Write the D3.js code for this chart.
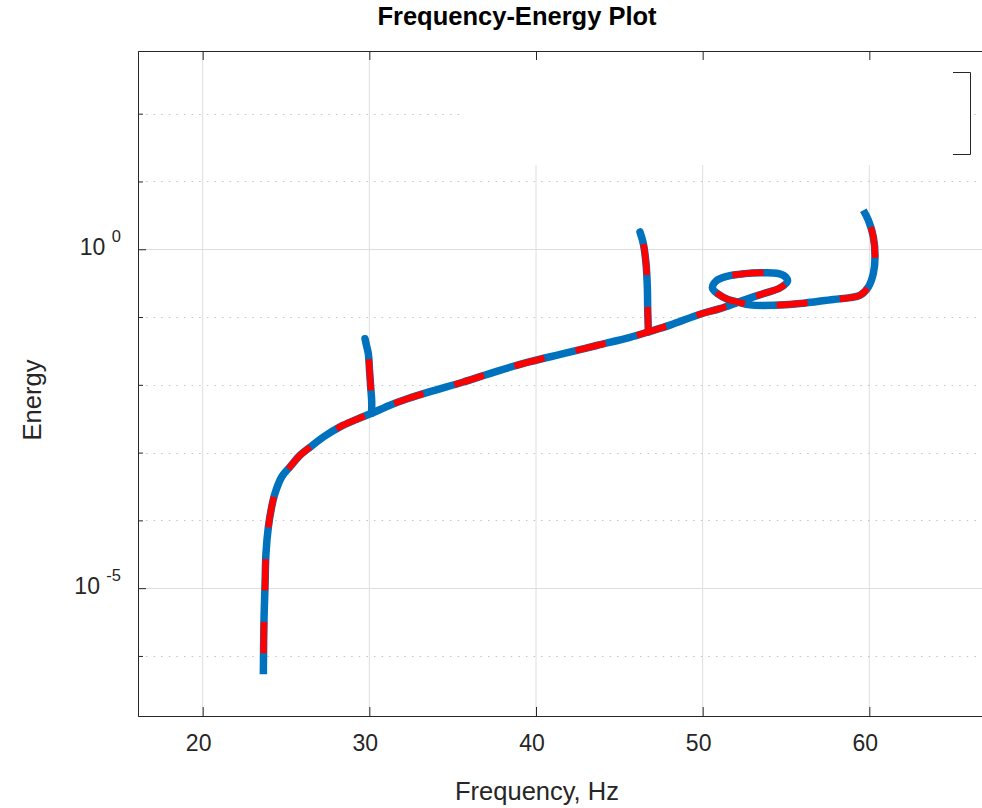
<!DOCTYPE html>
<html>
<head>
<meta charset="utf-8">
<script src="https://cdn.jsdelivr.net/npm/d3@7"></script>
<style>
  html, body { margin: 0; padding: 0; background: #fff; }
  svg { display: block; font-family: "Liberation Sans", Arial, Helvetica, sans-serif; }
</style>
</head>
<body>
<svg id="chart" width="982" height="808"></svg>
<script>
// ---------------- data ----------------
const titleText = "Frequency-Energy Plot";
const xLabelText = "Frequency, Hz";
const yLabelText = "Energy";

const xDomain = [16.12, 66.76];
const yDomain = [1.30e-7, 841];

const xTicks = [20, 30, 40, 50, 60];
const yMajorTicks = [1e-5, 1e0];
const yMajorExponents = ["-5", "0"];
const yMinorTicks = [1e-6, 1e-4, 1e-3, 1e-2, 1e-1, 1e1, 1e2];

// backbone branch (frequency in Hz, energy)
const backboneFreq = [23.64, 23.68, 23.74, 23.80, 23.94, 24.14, 24.34, 24.74, 25.24, 25.84,
  26.44, 27.24, 28.24, 29.24, 30.14, 31.24, 32.24, 33.64, 35.64, 37.64,
  39.64, 41.64, 43.64, 45.64, 46.74, 48.04, 49.84, 51.04, 52.14, 52.96,
  53.84, 54.64, 55.09, 54.94, 54.44, 53.44, 52.54, 51.46, 50.80, 50.59,
  50.92, 51.52, 52.14, 52.84, 54.24, 55.84, 57.84, 58.84, 59.44, 59.94,
  60.24, 60.34, 60.24, 59.94, 59.64];
const backboneEnergy = [5.37e-7, 3.39e-6, 1.05e-5, 3.31e-5, 7.94e-5, 1.58e-4, 2.51e-4, 4.37e-4, 6.17e-4, 9.12e-4,
  1.20e-3, 1.70e-3, 2.40e-3, 3.09e-3, 3.80e-3, 5.01e-3, 6.17e-3, 7.94e-3, 1.10e-2, 1.58e-2,
  2.19e-2, 2.88e-2, 3.80e-2, 5.01e-2, 6.03e-2, 7.59e-2, 0.110, 0.133, 0.166, 0.195,
  0.229, 0.269, 0.339, 0.398, 0.443, 0.450, 0.437, 0.398, 0.339, 0.266,
  0.219, 0.182, 0.166, 0.151, 0.149, 0.158, 0.182, 0.193, 0.209, 0.278,
  0.439, 0.769, 1.52, 2.68, 3.76];

// tongue near 30 Hz
const tongue1Freq = [30.14, 30.14, 30.08, 30.01, 29.94, 29.83, 29.74];
const tongue1Energy = [3.80e-3, 5.89e-3, 9.33e-3, 1.66e-2, 2.88e-2, 3.80e-2, 4.79e-2];

// tongue near 46.7 Hz
const tongue2Freq = [46.74, 46.70, 46.68, 46.60, 46.44, 46.24];
const tongue2Energy = [6.03e-2, 0.141, 0.278, 0.617, 1.21, 1.80];

// ---------------- layout ----------------
const svg = d3.select("#chart");
const plot = { left: 138, right: 982, top: 51, bottom: 716 };

const x = d3.scaleLinear().domain(xDomain).range([plot.left, plot.right]);
const y = d3.scaleLog().domain(yDomain).range([plot.bottom, plot.top]);

const axisColor = "#262626";
const blue = "#0072BD";
const red = "#FF0000";

// ---------------- grid ----------------
const grid = svg.append("g");
grid.selectAll("line.vx").data(xTicks).join("line")
  .attr("x1", d => x(d)).attr("x2", d => x(d))
  .attr("y1", plot.top).attr("y2", plot.bottom)
  .attr("stroke", "#dedede").attr("stroke-width", 1);
grid.selectAll("line.hmaj").data(yMajorTicks).join("line")
  .attr("x1", plot.left).attr("x2", plot.right)
  .attr("y1", d => Math.round(y(d)) + 0.5).attr("y2", d => Math.round(y(d)) + 0.5)
  .attr("stroke", "#dedede").attr("stroke-width", 1);
grid.selectAll("line.hmin").data(yMinorTicks).join("line")
  .attr("x1", plot.left + 8).attr("x2", plot.right)
  .attr("y1", d => Math.round(y(d)) + 0.5).attr("y2", d => Math.round(y(d)) + 0.5)
  .attr("stroke", "#c4c4c4").attr("stroke-width", 1)
  .attr("stroke-dasharray", "1.5,6.1");

// legend area (blank box with right bracket visible)
svg.append("rect").attr("x", 465).attr("y", 52).attr("width", 505).attr("height", 113)
  .attr("fill", "#fff");
svg.append("path").attr("d", "M953,72.5H970.5V154.5H953")
  .attr("fill", "none").attr("stroke", axisColor).attr("stroke-width", 1);

// ---------------- curves ----------------
const line = d3.line().x(d => x(d[0])).y(d => y(d[1])).curve(d3.curveCatmullRom.alpha(0.5));
const series = [
  { pts: d3.zip(backboneFreq, backboneEnergy), offset: 42, cap: "butt" },
  { pts: d3.zip(tongue1Freq, tongue1Energy), offset: 40, cap: "round" },
  { pts: d3.zip(tongue2Freq, tongue2Energy), offset: 6, cap: "round" }
];
const curves = svg.append("g");
series.forEach(s => {
  curves.append("path").attr("d", line(s.pts))
    .attr("fill", "none").attr("stroke", blue).attr("stroke-width", 7.5)
    .attr("stroke-linejoin", "round").attr("stroke-linecap", s.cap);
});
series.forEach(s => {
  curves.append("path").attr("d", line(s.pts))
    .attr("fill", "none").attr("stroke", red).attr("stroke-width", 6.5)
    .attr("stroke-linejoin", "round").attr("stroke-linecap", "butt")
    .attr("stroke-dasharray", "31,32").attr("stroke-dashoffset", s.offset);
});

// ---------------- axes ----------------
function styleAxis(g) {
  g.selectAll("path.domain").attr("stroke", axisColor).attr("stroke-width", 1);
  g.selectAll(".tick line").attr("stroke", axisColor).attr("stroke-width", 1);
}

const gBottom = svg.append("g").attr("transform", `translate(0,${plot.bottom})`)
  .call(d3.axisBottom(x).tickValues(xTicks).tickSize(-9).tickSizeOuter(0).tickFormat(d3.format("d")));
styleAxis(gBottom);
gBottom.selectAll(".tick text")
  .attr("x", -4.5).attr("y", 35).attr("dy", 0)
  .attr("fill", axisColor).attr("font-size", 23)
  .attr("font-family", "'Liberation Sans', Arial, sans-serif");

const gTop = svg.append("g").attr("transform", `translate(0,${plot.top})`)
  .call(d3.axisTop(x).tickValues(xTicks).tickSize(-9).tickSizeOuter(0).tickFormat(""));
styleAxis(gTop);

const gLeftMinor = svg.append("g").attr("transform", `translate(${plot.left},0)`)
  .call(d3.axisLeft(y).tickValues(yMinorTicks).tickSize(-5).tickSizeOuter(0).tickFormat(""));
styleAxis(gLeftMinor);

const gLeft = svg.append("g").attr("transform", `translate(${plot.left},0)`)
  .call(d3.axisLeft(y).tickValues(yMajorTicks).tickSize(-8).tickSizeOuter(0).tickFormat(""));
styleAxis(gLeft);

// y tick labels: 10 with superscript exponent
const yLab = svg.append("g").attr("fill", axisColor)
  .attr("font-family", "'Liberation Sans', Arial, sans-serif");
yMajorTicks.forEach((v, i) => {
  const t = yLab.append("text")
    .attr("x", 121).attr("y", y(v) + 6)
    .attr("text-anchor", "end");
  t.append("tspan").attr("font-size", 23).text("10 ");
  t.append("tspan").attr("font-size", 16.5).attr("dy", -13).text(yMajorExponents[i]);
});

// ---------------- labels ----------------
svg.append("text").attr("x", 517).attr("y", 25).attr("text-anchor", "middle")
  .attr("font-weight", "bold").attr("font-size", 25.5).attr("fill", "#000")
  .text(titleText);

svg.append("text").attr("x", 537).attr("y", 800).attr("text-anchor", "middle")
  .attr("font-size", 25.5).attr("fill", axisColor)
  .text(xLabelText);

svg.append("text").attr("transform", "translate(41,400) rotate(-90)")
  .attr("text-anchor", "middle")
  .attr("font-size", 25.5).attr("fill", axisColor)
  .text(yLabelText);
</script>
</body>
</html>
